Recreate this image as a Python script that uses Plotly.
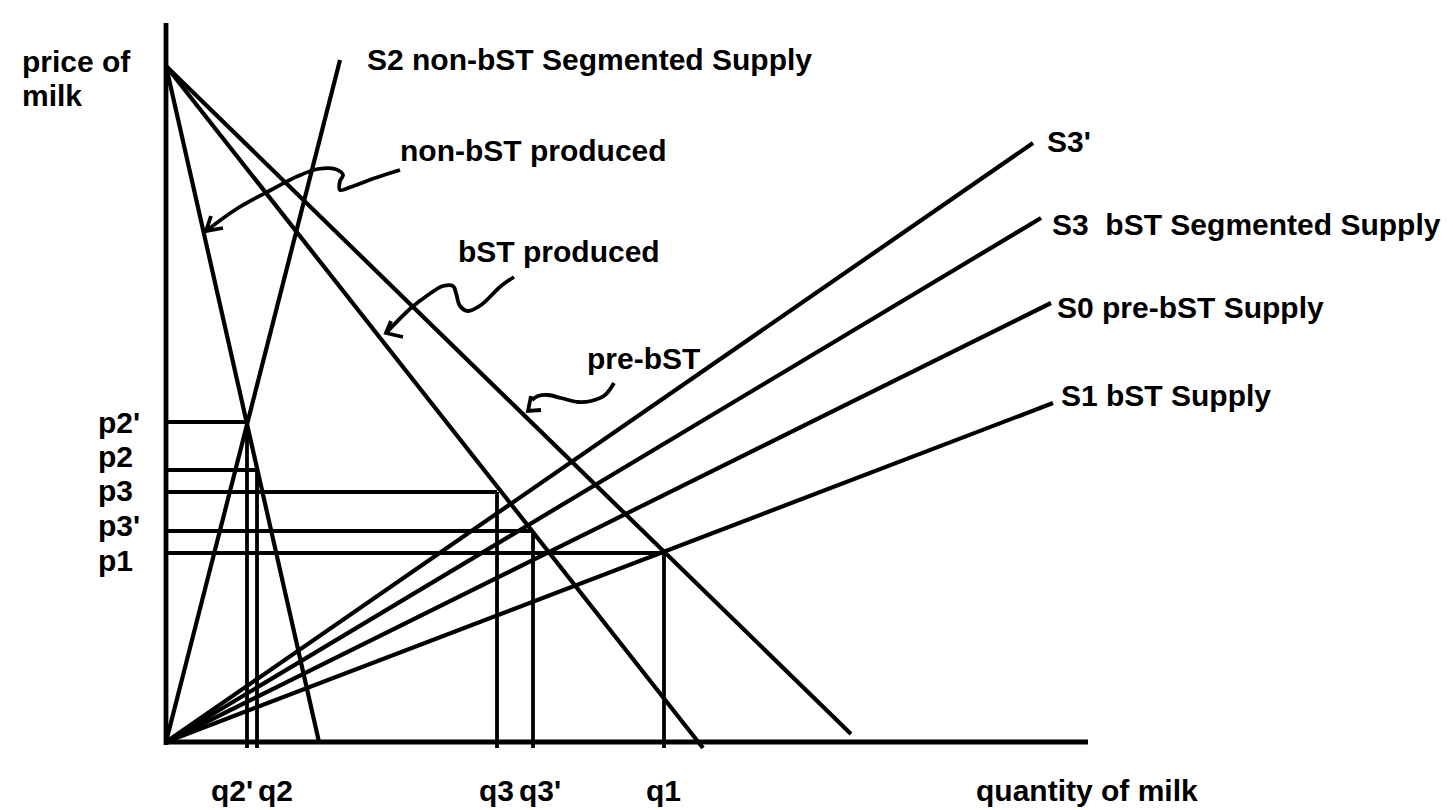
import plotly.graph_objects as go

# ---- data (quantity q, price p units; origin at the axes' corner) ----
apex_price = 676
# demand curves: end points (q, p) starting from (0, apex_price)
demand_names = ["non-bST produced", "bST produced", "pre-bST"]
demand_end_q = [153, 537, 685]
demand_end_p = [0, -6, 8]

# supply curves from the origin: end points
supply_names = ["S2", "S3'", "S3", "S0", "S1"]
supply_end_q = [174, 867, 875, 885, 887]
supply_end_p = [682, 599, 524, 439, 339]

# equilibrium prices / quantities
price_labels = ["p2'", "p2", "p3", "p3'", "p1"]
price_values = [320, 272, 250, 211, 189]
price_qty = [81, 91, 331, 367, 498]
price_label_p = [320, 286, 252, 217, 182]

qty_labels = ["q2'", "q2", "q3", "q3'", "q1"]
qty_label_q = [66, 109, 330, 374, 497]

axis_y_top = 719
axis_x_end = 922

# wavy pointer curves (q, p)
ptr_non_q = [234, 209, 185, 174, 174, 177, 169, 152, 132, 105, 72, 40]
ptr_non_p = [572, 564, 555, 552, 561, 567, 573, 573, 566, 552, 534, 511]
ptr_non_barb_q = [45, 40, 57]
ptr_non_barb_p = [526, 511, 514]

ptr_bst_q = [348, 335, 315, 302, 294, 290, 287, 277, 262, 245, 220]
ptr_bst_p = [465, 456, 437, 431, 436, 449, 456, 456, 447, 434, 409]
ptr_bst_barb_q = [225, 220, 237]
ptr_bst_barb_p = [421, 409, 405]

ptr_pre_q = [448, 439, 425, 412, 395, 382, 372, 366]
ptr_pre_p = [359, 347, 341, 340, 344, 347, 346, 342]
ptr_pre_barb_q = [365, 362, 375]
ptr_pre_barb_p = [346, 331, 332]

# text labels (q, p, text)
label_text = ["price of", "milk", "S2 non-bST Segmented Supply", "non-bST produced",
              "bST produced", "pre-bST", "S3'", "S3\u00a0\u00a0bST Segmented Supply",
              "S0 pre-bST Supply", "S1 bST Supply", "quantity of milk"]
label_q = [-146, -146, 199, 232, 290, 419, 879, 884, 889, 893, 808]
label_p = [681, 647, 683, 592, 491, 384, 601, 518, 435, 347, -48]

# ---- figure ----
fig = go.Figure()
LW = 4.2
black = "#000000"

def seg(xs, ys, w=LW, shape="linear"):
    fig.add_trace(go.Scatter(x=xs, y=ys, mode="lines",
                             line=dict(color=black, width=w, shape=shape),
                             hoverinfo="skip", showlegend=False))

# axes
seg([0, 0], [-3, axis_y_top], w=4.8)
seg([0, axis_x_end], [0, 0], w=4.8)

# demand curves
for q, p in zip(demand_end_q, demand_end_p):
    seg([0, q], [apex_price, p])

# supply curves
for q, p in zip(supply_end_q, supply_end_p):
    seg([0, q], [0, p])

# equilibrium guide lines
for pv, qv in zip(price_values, price_qty):
    seg([0, qv], [pv, pv], w=3.8)
    seg([qv, qv], [-6, pv], w=3.8)

# pointers
seg(ptr_non_q, ptr_non_p, w=3.8, shape="spline")
seg(ptr_non_barb_q, ptr_non_barb_p, w=3.8)
seg(ptr_bst_q, ptr_bst_p, w=3.8, shape="spline")
seg(ptr_bst_barb_q, ptr_bst_barb_p, w=3.8)
seg(ptr_pre_q, ptr_pre_p, w=3.8, shape="spline")
seg(ptr_pre_barb_q, ptr_pre_barb_p, w=3.8)

font = dict(family="Liberation Sans, Arial, sans-serif", size=30, color=black, weight="bold")

annotations = []
for t, q, p in zip(label_text, label_q, label_p):
    annotations.append(dict(x=q, y=p, text=t, showarrow=False, xanchor="left",
                            yanchor="middle", font=font, xref="x", yref="y"))
for t, p in zip(price_labels, price_label_p):
    annotations.append(dict(x=-70, y=p, text=t, showarrow=False, xanchor="left",
                            yanchor="middle", font=font, xref="x", yref="y"))
for t, q in zip(qty_labels, qty_label_q):
    annotations.append(dict(x=q, y=-48, text=t, showarrow=False, xanchor="center",
                            yanchor="middle", font=font, xref="x", yref="y"))

fig.update_layout(
    width=1453, height=810, autosize=False,
    margin=dict(l=0, r=0, t=0, b=0),
    paper_bgcolor="white", plot_bgcolor="white",
    xaxis=dict(range=[-158, 1295], visible=False, fixedrange=True),
    yaxis=dict(range=[-76, 734], visible=False, fixedrange=True),
    annotations=annotations,
)

fig.write_html("out.html")
